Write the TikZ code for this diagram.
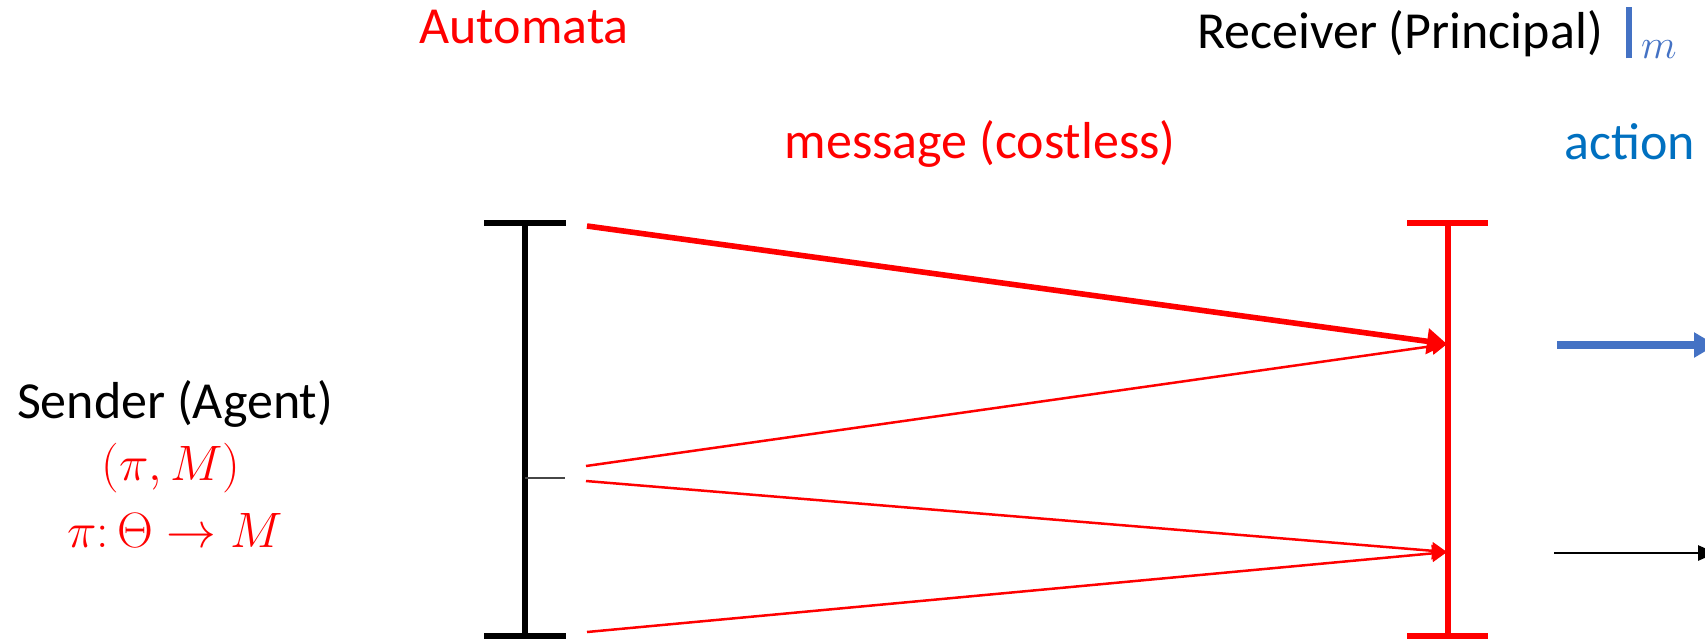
\documentclass[tikz,border=0pt]{standalone}
\usepackage{fontspec}
\setmainfont{Carlito}
\usetikzlibrary{arrows.meta}
\definecolor{msgred}{RGB}{255,0,0}
\definecolor{actblue}{RGB}{68,114,196}
\definecolor{acttext}{RGB}{0,112,192}
\definecolor{tickgray}{RGB}{70,70,70}
\tikzset{
  lbl/.style={font=\fontsize{26pt}{30pt}\selectfont, inner sep=0pt, anchor=base},
  barline/.style={line width=3pt},
  msgthick/.style={msgred, line width=2.8pt, -{Triangle[length=10pt,width=12.5pt]}},
  msgthin/.style={msgred, line width=1.25pt, -{Triangle[length=7.5pt,width=8.5pt]}},
}
\begin{document}
\begin{tikzpicture}[x=0.5pt, y=-0.5pt]
\useasboundingbox (0,0) rectangle (1705,639);
\clip (0,0) rectangle (1705,639);

% headings
\node[lbl, msgred] (automata) at (524,43) {Automata};
\node[lbl] (receiver) at (1400,48) {Receiver (Principal)};
\node[lbl, actblue, anchor=base west] (given) at (1626,48)
  {\rule[-0.2em]{3pt}{0.98em}\,\raisebox{-0.2em}{\fontsize{20pt}{20pt}\selectfont$m$}};
\node[lbl, msgred] (message) at (980,158) {message (costless)};
\node[lbl, acttext] (action) at (1630,159) {action};

% sender description
\node[lbl] (sender) at (175,418) {Sender (Agent)};
\node[lbl, msgred] (strategy) at (171,480) {$(\pi, M)$};
\node[lbl, msgred] (map) at (175,547) {$\pi\colon \Theta \rightarrow M$};

% sender bar
\coordinate (sT) at (525,223);
\coordinate (sB) at (525,636);
\coordinate (sTl) at (484,223);
\coordinate (sTr) at (566,223);
\coordinate (sBl) at (484,636);
\coordinate (sBr) at (566,636);
\coordinate (sMid) at (525,478);
\coordinate (sTick) at (565,478);
\draw[barline] (sT) -- (sB);
\draw[barline] (sTl) -- (sTr);
\draw[barline] (sBl) -- (sBr);
\draw[tickgray, line width=0.8pt] (sMid) -- (sTick);

% receiver bar
\coordinate (rT) at (1448,223);
\coordinate (rB) at (1448,636);
\coordinate (rTl) at (1407,223);
\coordinate (rTr) at (1488,223);
\coordinate (rBl) at (1407,636);
\coordinate (rBr) at (1488,636);
\draw[barline, msgred] (rT) -- (rB);
\draw[barline, msgred] (rTl) -- (rTr);
\draw[barline, msgred] (rBl) -- (rBr);

% message arrows
\coordinate (m1) at (587,226);
\coordinate (m2) at (586,466);
\coordinate (m3) at (586,481);
\coordinate (m4) at (587,632);
\coordinate (hiT) at (1447,344);
\coordinate (loT) at (1447,552);
\draw[msgthin] (m2) -- (hiT);
\draw[msgthick] (m1) -- (hiT);
\draw[msgthin] (m3) -- (loT);
\draw[msgthin] (m4) -- (loT);

% actions
\coordinate (a1s) at (1557,345);
\coordinate (a1e) at (1716,345);
\coordinate (a2s) at (1554,553);
\coordinate (a2e) at (1716,553);
\draw[actblue, line width=4pt, -{Triangle[length=11pt,width=12pt]}] (a1s) -- (a1e);
\draw[line width=1.4pt, -{Triangle[length=9pt,width=7.5pt]}] (a2s) -- (a2e);
\end{tikzpicture}
\end{document}
